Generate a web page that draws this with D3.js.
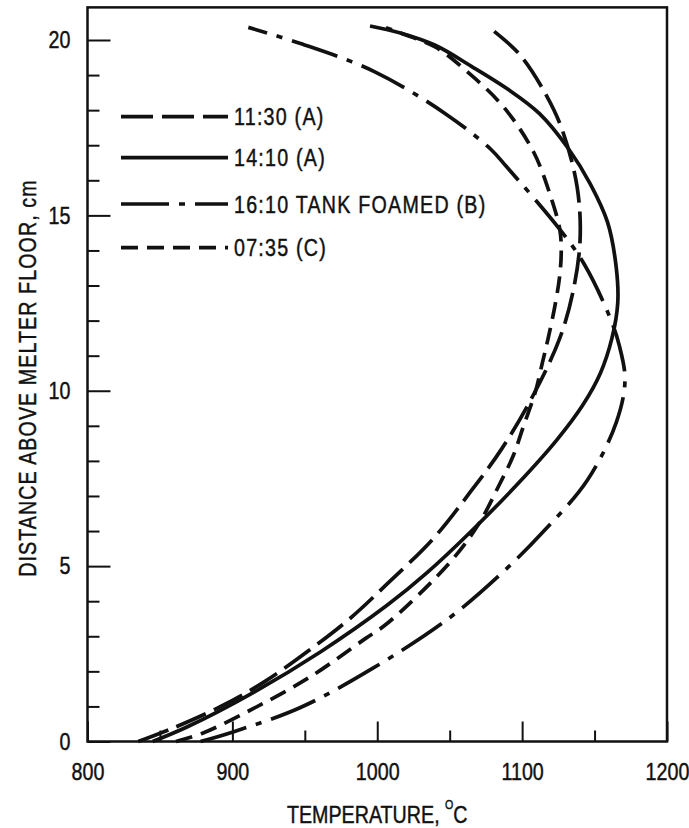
<html>
<head>
<script src="https://d3js.org/d3.v7.min.js"></script>
<style>
  body { margin: 0; background: #fff; }
  text { font-family: "Liberation Sans", Arial, sans-serif; fill: #111; stroke: #111; stroke-width: 0.45px; }
</style>
</head>
<body>
<script>
    ///////////////// data: [temperature C, distance above floor cm] ////
    var run1130 = [[835,0],[860,0.4],[892,1.0],[922,1.7],[953,2.6],[981,3.5],[1007,4.5],[1039,5.8],[1064,7.1],
        [1086,8.35],[1108,9.9],[1126,11.5],[1135,12.8],[1140,14.3],[1138,15.8],[1128,17.4],[1117,18.4],[1098,19.6],[1076,20.4]];
    var run1410 = [[845,0],[869,0.42],[915,1.41],[961,2.56],[1007,3.89],[1034,4.8],[1064,5.96],[1098,7.39],[1124,8.6],
        [1142,9.6],[1154,10.5],[1162,11.5],[1166,12.5],[1165,13.5],[1159,14.8],[1147,15.9],[1132,16.9],[1112,17.9],
        [1090,18.6],[1065,19.25],[1040,19.85],[1016,20.2],[995,20.4]];
    var run1610 = [[878,0],[901,0.28],[947,0.97],[995,2.04],[1049,3.5],[1087,4.84],[1115,6.0],[1145,7.45],[1165,9.1],
        [1171,10.3],[1167,11.3],[1160,12.15],[1143,13.6],[1126,14.6],[1089,16.4],[1078,16.9],[1047,17.9],[998,19.1],
        [947,19.9],[911,20.36]];
    var run0735 = [[861,0],[879,0.23],[915,0.95],[954,1.85],[992,2.94],[1007,3.37],[1050,5.1],[1070,6.2],[1084,7.3],
        [1094,8.16],[1101,9.0],[1109,9.95],[1114,10.8],[1118,11.5],[1123,12.5],[1126,13.3],[1127,14.0],[1126,14.6],
        [1120,15.5],[1108,16.8],[1087,18.1],[1062,19.1],[1040,19.8],[1016,20.2],[1006,20.35]];

    var seriesNames = ["11:30 (A)", "14:10 (A)", "16:10 TANK FOAMED (B)", "07:35 (C)"];
    var seriesData = [run1130, run1410, run1610, run0735];

    var xLabels = [800, 900, 1000, 1100, 1200];
    var xMinorTicks = [850, 950, 1050, 1150];
    var yLabels = [0, 5, 10, 15, 20];
    var yMinorTicks = [1,2,3,4,6,7,8,9,11,12,13,14,16,17,18,19];
    var distTop = 20.93; // top edge of frame, cm

    /////////////////settings for chart ////
    var svgWidth = 689, svgHeight = 828;
    var dashes = ["32,9", null, "48,10,6,10", "17,9"];
    var squeeze = 0.82; // narrow typewriter lettering

    var x = d3.scaleLinear().domain([800, 1200]).range([87.5, 667]);
    var y = d3.scaleLinear().domain([0, 20]).range([741.5, 40]);

    var svg = d3.select("body").append("svg")
        .attr("width", svgWidth)
        .attr("height", svgHeight);

    // curves
    var line = d3.line()
        .x(d => x(d[0]))
        .y(d => y(d[1]))
        .curve(d3.curveCatmullRom.alpha(0.5));

    svg.selectAll(".curve")
        .data(seriesData)
        .enter().append("path")
        .attr("class", "curve")
        .attr("d", line)
        .attr("fill", "none")
        .attr("stroke", "#111")
        .attr("stroke-width", 3.7)
        .attr("stroke-dasharray", (d, i) => dashes[i]);

    // axes (ticks point inward)
    function styleAxis(g) {
        g.select(".domain").remove();
        g.selectAll("line").attr("stroke", "#111").attr("stroke-width", 2);
        g.selectAll("text").attr("font-size", 24).attr("fill", "#111")
            .attr("transform", "scale(" + squeeze + ",1)")
            .style("font-family", "'Liberation Sans', Arial, sans-serif");
    }
    svg.append("g").attr("transform", "translate(0," + y(0) + ")")
        .call(d3.axisBottom(x).tickValues(xLabels).tickSize(-20).tickPadding(21).tickFormat(d3.format("d")))
        .call(styleAxis);
    svg.append("g").attr("transform", "translate(0," + y(0) + ")")
        .call(d3.axisBottom(x).tickValues(xMinorTicks).tickSize(-11).tickFormat(""))
        .call(styleAxis);
    svg.append("g").attr("transform", "translate(" + x(800) + ",0)")
        .call(d3.axisLeft(y).tickValues(yLabels).tickSize(-23).tickPadding(17 / squeeze))
        .call(styleAxis);
    svg.append("g").attr("transform", "translate(" + x(800) + ",0)")
        .call(d3.axisLeft(y).tickValues(yMinorTicks).tickSize(-12).tickFormat(""))
        .call(styleAxis);

    // frame
    svg.append("rect")
        .attr("x", x(800)).attr("y", y(distTop))
        .attr("width", x(1200) - x(800))
        .attr("height", y(0) - y(distTop))
        .attr("fill", "none")
        .attr("stroke", "#111")
        .attr("stroke-width", 2.5);

    // legend
    var legend = svg.append("g").attr("class", "legend");
    var legendY = [116.7, 157.7, 204, 247.7];
    seriesNames.forEach(function (name, i) {
        legend.append("line")
            .attr("x1", 121).attr("x2", 228)
            .attr("y1", legendY[i]).attr("y2", legendY[i])
            .attr("stroke", "#111")
            .attr("stroke-width", 3.7)
            .attr("stroke-dasharray", dashes[i]);
        legend.append("text")
            .attr("transform", "translate(234," + (legendY[i] + 8.5) + ") scale(" + squeeze + ",1)")
            .attr("font-size", 24)
            .attr("letter-spacing", 1.5)
            .text(name);
    });

    // axis titles
    var xt = svg.append("text")
        .attr("transform", "translate(" + x(1000) + ",823) scale(" + squeeze + ",1)")
        .attr("text-anchor", "middle")
        .attr("font-size", 24)
        .text("TEMPERATURE, ");
    xt.append("tspan").attr("font-size", 13).attr("dy", -14).text("O");
    xt.append("tspan").attr("dy", 14).text("C");

    svg.append("text")
        .attr("transform", "translate(36," + y(10.36) + ") rotate(-90) scale(" + squeeze + ",1)")
        .attr("text-anchor", "middle")
        .attr("font-size", 24)
        .attr("letter-spacing", 1.3)
        .text("DISTANCE ABOVE MELTER FLOOR, cm");
</script>
</body>
</html>
